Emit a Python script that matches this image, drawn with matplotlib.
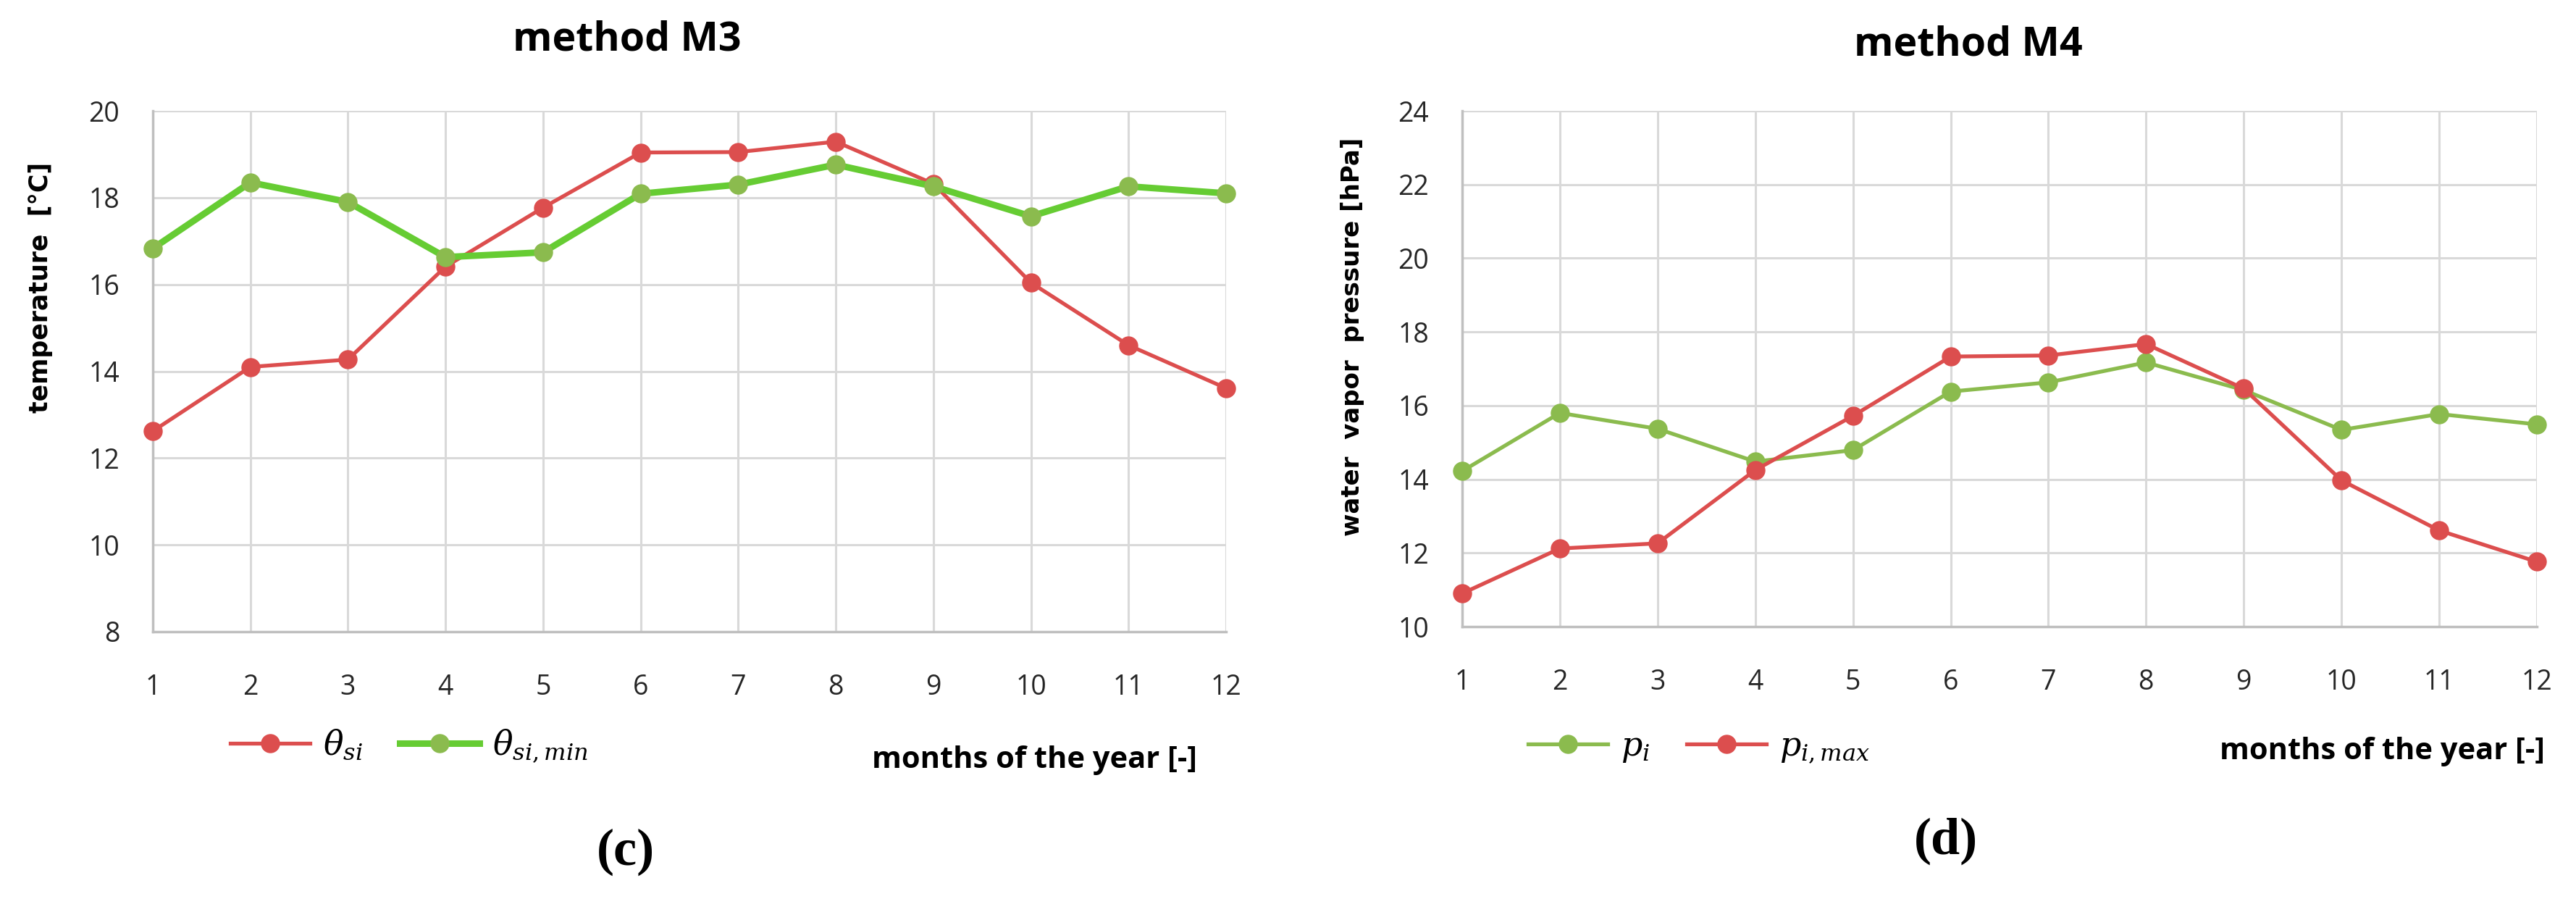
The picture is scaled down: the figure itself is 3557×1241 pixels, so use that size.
import matplotlib
matplotlib.use("Agg")
import matplotlib.pyplot as plt
from matplotlib import font_manager

# data
months = list(range(1, 13))

theta_si = [12.62, 14.10, 14.27, 16.41, 17.77, 19.04, 19.05, 19.29, 18.32, 16.04, 14.60, 13.61]
theta_si_min = [16.83, 18.35, 17.90, 16.63, 16.74, 18.09, 18.30, 18.76, 18.26, 17.57, 18.26, 18.10]

p_i = [14.22, 15.80, 15.37, 14.48, 14.79, 16.38, 16.63, 17.17, 16.42, 15.34, 15.77, 15.49]
p_i_max = [10.90, 12.12, 12.26, 14.25, 15.72, 17.33, 17.36, 17.67, 16.46, 13.97, 12.61, 11.76]

temp_ticks = [8, 10, 12, 14, 16, 18, 20]
press_ticks = [10, 12, 14, 16, 18, 20, 22, 24]

RED = "#DC4E4E"
GREEN_MARK = "#8BBB4E"
GREEN_BRIGHT = "#66CC33"

plt.rcParams["mathtext.fontset"] = "dejavuserif"


def pick_font(names):
    have = set(f.name for f in font_manager.fontManager.ttflist)
    for n in names:
        if n in have:
            return n
    return "DejaVu Sans"


NARROW = pick_font(["Liberation Sans Narrow", "Open Sans", "Roboto"])
TICKFONT = pick_font(["Open Sans", "Lato", "DejaVu Sans"])

W, H = 3557, 1241
fig = plt.figure(figsize=(W / 100, H / 100), dpi=100)


def px_x(x):
    return x / W


def px_y(y):
    return 1 - y / H


def style_axes(ax, ymin, ymax, yticks):
    ax.set_xlim(1, 12)
    ax.set_ylim(ymin, ymax)
    ax.set_xticks(months)
    ax.set_yticks(yticks)
    ax.grid(True, color="#D9D9D9", linewidth=2.2)
    ax.set_axisbelow(True)
    for s in ["top", "right"]:
        ax.spines[s].set_visible(False)
    for s in ["left", "bottom"]:
        ax.spines[s].set_color("#BFBFBF")
        ax.spines[s].set_linewidth(2.5)
    ax.tick_params(length=0, labelsize=27, labelcolor="#262626")
    ax.tick_params(axis="y", pad=33)
    ax.tick_params(axis="x", pad=42)
    for lab in ax.get_xticklabels() + ax.get_yticklabels():
        lab.set_fontfamily(TICKFONT)


def add_legend(ax, x, y):
    ax.legend(loc="center left", bbox_to_anchor=(px_x(x), px_y(y)),
              bbox_transform=fig.transFigure, ncol=2, frameon=False, fontsize=33,
              handlelength=2.4, handletextpad=0.4, columnspacing=1.1,
              borderpad=0, borderaxespad=0)


# left panel (c)
ax1 = fig.add_axes([px_x(211), px_y(872), px_x(1693 - 211), (872 - 153) / H])
ax1.plot(months, theta_si, color=RED, lw=3.8, marker="o", ms=18,
         mfc=RED, mec=RED, label=r"$\theta_{si}$", clip_on=False, zorder=3)
ax1.plot(months, theta_si_min, color=GREEN_BRIGHT, lw=6.5, marker="o", ms=18,
         mfc=GREEN_MARK, mec=GREEN_MARK, label=r"$\theta_{si,min}$", clip_on=False, zorder=4)
style_axes(ax1, 8, 20, temp_ticks)
add_legend(ax1, 318, 1030)

# right panel (d)
ax2 = fig.add_axes([px_x(2019), px_y(865), px_x(3503 - 2019), (865 - 153) / H])
ax2.plot(months, p_i, color=GREEN_MARK, lw=3.8, marker="o", ms=18,
         mfc=GREEN_MARK, mec=GREEN_MARK, label=r"$p_i$", clip_on=False, zorder=3)
ax2.plot(months, p_i_max, color=RED, lw=3.8, marker="o", ms=18,
         mfc=RED, mec=RED, label=r"$p_{i,max}$", clip_on=False, zorder=4)
style_axes(ax2, 10, 24, press_ticks)
add_legend(ax2, 2110, 1032)

# titles, axis labels, panel letters
fig.text(px_x(866), px_y(55), "method M3", ha="center", va="center",
         fontsize=40, fontweight="bold", family=NARROW)
fig.text(px_x(2718), px_y(62), "method M4", ha="center", va="center",
         fontsize=40, fontweight="bold", family=NARROW)

fig.text(px_x(56), px_y(397), "temperature  [°C]", rotation=90, ha="center",
         va="center", fontsize=25, fontweight="bold", family="DejaVu Sans")
fig.text(px_x(1867), px_y(465), "water  vapor  pressure [hPa]", rotation=90,
         ha="center", va="center", fontsize=24.5, fontweight="bold", family="DejaVu Sans")

fig.text(px_x(1428), px_y(1050), "months of the year [-]", ha="center", va="center",
         fontsize=30, fontweight="bold", family=NARROW)
fig.text(px_x(3289), px_y(1038), "months of the year [-]", ha="center", va="center",
         fontsize=30, fontweight="bold", family=NARROW)

fig.text(px_x(864), px_y(1176), "(c)", ha="center", va="center",
         fontsize=52, fontweight="bold", family="Liberation Serif")
fig.text(px_x(2687), px_y(1161), "(d)", ha="center", va="center",
         fontsize=52, fontweight="bold", family="Liberation Serif")

fig.savefig("out.png", dpi=100, facecolor="white")
